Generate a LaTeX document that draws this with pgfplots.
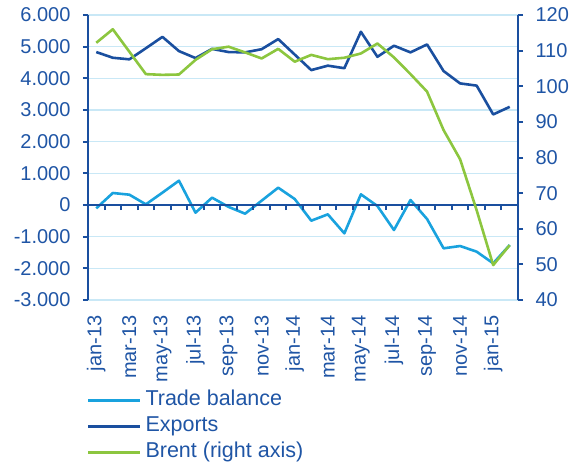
\documentclass[border=0pt]{standalone}
\usepackage{fontspec}
\setmainfont{Liberation Sans}
\usepackage{pgfplots}
\usepackage{pgfplotstable}
\pgfplotsset{compat=1.18}
\definecolor{cTB}{HTML}{19A2DE}
\definecolor{cEX}{HTML}{1A4F9F}
\definecolor{cBR}{HTML}{8CC63F}
\definecolor{cTX}{HTML}{1F55A5}
\definecolor{cGR}{HTML}{C9E8F6}

% month index, trade balance, exports, brent
\pgfplotstableread{
i tb ex br
0 -105 4830 112.2
1 379 4650 116.0
2 326 4600 109.7
3 21 4950 103.4
4 390 5310 103.2
5 768 4860 103.3
6 -242 4640 107.4
7 232 4930 110.4
8 -60 4830 111.1
9 -274 4820 109.5
10 137 4920 107.8
11 547 5240 110.5
12 189 4750 106.9
13 -495 4260 108.8
14 -295 4400 107.6
15 -895 4320 108.0
16 337 5470 109.2
17 -32 4680 112.0
18 -790 5030 108.1
19 158 4820 103.4
20 -442 5070 98.5
21 -1368 4230 87.7
22 -1295 3840 79.5
23 -1474 3770 65.2
24 -1842 2860 49.8
25 -1263 3100 55.4
}\data

\pgfplotsset{
  base/.style={width=430pt,height=285pt,scale only axis,xmin=-0.5,xmax=25.5,
    font=\fontsize{20}{24}\selectfont, tick label style={text=cTX},
    /pgf/number format/assume math mode=true,
    axis line style={cEX,line width=2.2pt}, tick style={cEX,line width=2pt},
    tick align=outside, major tick length=5pt, clip=false},
  series/.style={#1,line width=2.6pt,line join=round,no marks},
}

\begin{document}
\begin{tikzpicture}
\begin{axis}[base,name=ax,ymin=-3000,ymax=6000,ytick={-3000,-2000,...,6000},
  ymajorgrids,grid style={cGR,line width=1.2pt},
  axis y line*=left,axis x line*=bottom,x axis line style={draw=none},
  xtick={0,2,...,24},
  xticklabels={jan-13,mar-13,may-13,jul-13,sep-13,nov-13,jan-14,mar-14,may-14,jul-14,sep-14,nov-14,jan-15},
  x tick style={draw=none},xticklabel shift=7pt,
  xticklabel style={rotate=90,anchor=east},
  yticklabel={\pgfmathprintnumber[1000 sep={.}]{\tick}\hspace*{9pt}},
  scaled y ticks=false]
\addplot[series=cTB] table[x=i,y=tb] {\data};
\addplot[series=cEX] table[x=i,y=ex] {\data};
\end{axis}
% zero line with ticks between months
\begin{axis}[base,ymin=-3000,ymax=6000,axis x line=middle,axis y line=none,
  xtick={0.5,1.5,...,24.5},xticklabels={},ytick=\empty,
  x axis line style={-},every inner x axis line/.append style={-},
  xtick align=outside,major tick length=5pt]
\end{axis}
\begin{axis}[base,ymin=40,ymax=120,ytick={40,50,...,120},
  axis y line*=right,axis x line=none,
  yticklabel={\hspace*{9pt}\pgfmathprintnumber{\tick}},
  legend style={at={(-0.003,-0.315)},anchor=north west,draw=none,fill=none,
    font=\fontsize{21.5}{24}\selectfont,text=cTX,inner sep=0pt,row sep=5pt,
    column sep=3pt,nodes={inner sep=1pt,text height=15pt,text depth=4pt}},
  legend cell align=left,
  legend image code/.code={\draw[#1] (0pt,0pt) -- (52pt,0pt);}]
\addlegendimage{series=cTB}\addlegendentry{Trade balance}
\addlegendimage{series=cEX}\addlegendentry{Exports}
\addplot[series=cBR] table[x=i,y=br] {\data};
\addlegendentry{Brent (right axis)}
\end{axis}
\pgfresetboundingbox
\path[use as bounding box] ([xshift=-88pt,yshift=-164pt]ax.south west) rectangle ([xshift=57pt,yshift=15pt]ax.north east);
\end{tikzpicture}
\end{document}
